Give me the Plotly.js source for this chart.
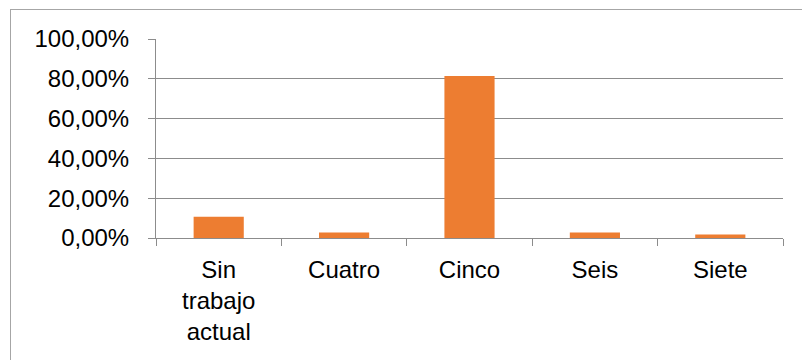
<!DOCTYPE html>
<html>
<head>
<meta charset="utf-8">
<script src="https://cdn.plot.ly/plotly-3.0.1.min.js"></script>
<style>
  html, body { margin: 0; padding: 0; background: #ffffff; }
  #wrap { position: relative; width: 802px; height: 360px; overflow: hidden; }
  #frame { position: absolute; left: 10px; top: 9px; width: 820px; height: 380px;
           border: 1px solid #a6a6a6; box-sizing: border-box; pointer-events: none; }
  #chart { position: absolute; left: 0; top: 0; width: 802px; height: 360px; }
</style>
</head>
<body>
<div id="wrap">
  <div id="chart"></div>
  <div id="frame"></div>
</div>
<script>
// Share of respondents by category
const categories = ["Sin<br>trabajo<br>actual", "Cuatro", "Cinco", "Seis", "Siete"];
const shares = [0.107, 0.028, 0.814, 0.028, 0.018];
const yTicks = [0, 0.2, 0.4, 0.6, 0.8, 1.0];

const axisGray = "#8c8c8c";
const barOrange = "#ED7D31";

const trace = {
  type: "bar",
  x: categories,
  y: shares,
  marker: { color: barOrange, line: { width: 0 } },
  hoverinfo: "skip"
};

const layout = {
  width: 802,
  height: 360,
  margin: { l: 156, r: 19, t: 39, b: 121.5 },
  paper_bgcolor: "#ffffff",
  plot_bgcolor: "#ffffff",
  separators: ",.",
  bargap: 0.6,
  showlegend: false,
  font: { family: "Liberation Sans, Arial, sans-serif", size: 24, color: "#000000" },
  xaxis: {
    type: "category",
    showline: true,
    linecolor: axisGray,
    linewidth: 1,
    ticks: "outside",
    tickson: "boundaries",
    ticklen: 7,
    tickcolor: axisGray,
    showgrid: false,
    tickfont: { size: 24 },
    ticklabelstandoff: 10
  },
  yaxis: {
    range: [0, 1],
    tickvals: yTicks,
    tickformat: ".2%",
    showline: true,
    linecolor: axisGray,
    linewidth: 1,
    ticks: "outside",
    ticklen: 7,
    tickcolor: axisGray,
    showgrid: true,
    gridcolor: axisGray,
    gridwidth: 1,
    zeroline: false,
    tickfont: { size: 24 },
    ticklabelstandoff: 14
  }
};

Plotly.newPlot("chart", [trace], layout, { displayModeBar: false, staticPlot: true });
</script>
</body>
</html>
